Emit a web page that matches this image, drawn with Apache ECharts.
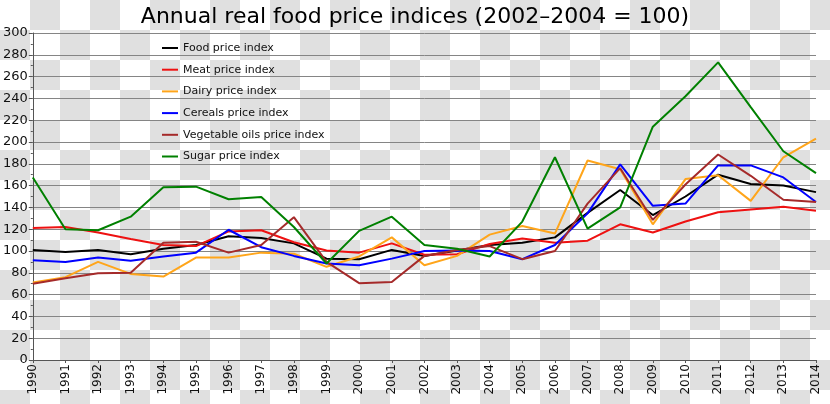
<!DOCTYPE html>
<html>
<head>
<meta charset="utf-8">
<script src="https://cdn.jsdelivr.net/npm/echarts@6/dist/echarts.min.js"></script>
<style>
  html, body { margin: 0; padding: 0; }
  body {
    width: 830px; height: 404px; overflow: hidden;
    background: repeating-conic-gradient(#e0e0e0 0 25%, #ffffff 0 50%) 0 0 / 60px 60px;
  }
  #chart { width: 830px; height: 404px; }
</style>
</head>
<body>
<div id="chart"></div>
<script>
const years = ["1990","1991","1992","1993","1994","1995","1996","1997","1998","1999","2000","2001","2002","2003","2004","2005","2006","2007","2008","2009","2010","2011","2012","2013","2014"];
const food    = [101, 99, 101, 97, 102, 105.5, 113.5, 112, 107, 93, 92.5, 101, 95.5, 100.5, 105.5, 107.5, 112.5, 135, 156, 133, 150, 170, 161.5, 160, 154];
const meat    = [121, 122, 117, 111, 105.5, 104.5, 118, 119, 108, 100.5, 98.5, 107, 96.5, 97, 106.5, 111.5, 107.5, 109.5, 124.5, 117, 127, 135.5, 138, 140.5, 137];
const dairy   = [71, 76, 90, 79, 76.5, 94, 94, 98.5, 97.5, 85.5, 95, 112.5, 87, 95.5, 115, 123, 116, 183, 175, 124.5, 166, 169.5, 146, 186, 203];
const cereals = [91.5, 90, 94, 91, 95, 98.5, 119.5, 103.5, 95.5, 88.5, 87, 93, 100, 100.5, 100, 92.5, 105.5, 134.5, 179.5, 141.5, 143.5, 178.5, 178.5, 167.5, 145];
const vegoils = [70, 75, 79.5, 80, 107.5, 108.5, 98.5, 105.5, 131, 90, 70.5, 71.5, 95.5, 101, 104.5, 92.5, 100, 143.5, 176, 128.5, 161, 188.5, 169, 147, 145];
const sugar   = [167.5, 120, 119, 131.5, 158.5, 159, 147.5, 149.5, 122, 88.5, 118.5, 131.5, 105.5, 102, 95, 127, 186, 120.5, 140, 214, 242, 273, 232, 191.5, 171.5];
const seriesNames = ["Food price index","Meat price index","Dairy price index","Cereals price index","Vegetable oils price index","Sugar price index"];
const seriesData = [food, meat, dairy, cereals, vegoils, sugar];
const colors = ["#000000","#ee1111","#ffa51a","#0000ff","#a52a2a","#008000"];

const FONT = "DejaVu Sans";
const chart = echarts.init(document.getElementById('chart'), null, {renderer: 'canvas'});
chart.setOption({
  backgroundColor: 'transparent',
  animation: false,
  textStyle: { fontFamily: FONT },
  title: {
    text: "Annual real food price indices (2002–2004 = 100)",
    left: 'center', top: 1,
    textStyle: { fontFamily: FONT, fontSize: 22, fontWeight: 'normal', color: '#000' }
  },
  legend: {
    orient: 'vertical', left: 157, top: 37.5,
    itemWidth: 16, itemHeight: 2, itemGap: 10.7,
    icon: 'rect',
    textStyle: { fontFamily: FONT, fontSize: 11, color: '#111' },
    data: seriesNames
  },
  grid: { left: 31, right: 14, top: 33, bottom: 44, containLabel: false },
  xAxis: {
    type: 'category', data: years, boundaryGap: false,
    axisLine: { lineStyle: { color: '#555', width: 1 } },
    axisTick: { show: true, length: 3, lineStyle: { color: '#555' } },
    axisLabel: { rotate: 90, fontFamily: FONT, fontSize: 12, color: '#111', margin: 4 },
    splitLine: { show: false }
  },
  yAxis: [{
    type: 'value', min: 0, max: 300, interval: 20,
    axisLine: { show: false },
    axisTick: { show: true, length: 4, lineStyle: { color: '#555' } },
    minorTick: { show: true, splitNumber: 2, length: 2, lineStyle: { color: '#555' } },
    axisLabel: { fontFamily: FONT, fontSize: 13, color: '#111', margin: 5 },
    splitLine: { show: true, lineStyle: { color: '#858585', width: 1 } }
  }, {
    type: 'value', min: 0, max: 307, position: 'left',
    axisLine: { show: true, onZero: false, lineStyle: { color: '#555', width: 1 } },
    axisTick: { show: false }, axisLabel: { show: false }, splitLine: { show: false }
  }],
  series: seriesNames.map((name, i) => ({
    name, type: 'line', data: seriesData[i], yAxisIndex: 0,
    symbol: 'none', lineStyle: { width: 2, color: colors[i] }, itemStyle: { color: colors[i] }
  }))
});
</script>
</body>
</html>
